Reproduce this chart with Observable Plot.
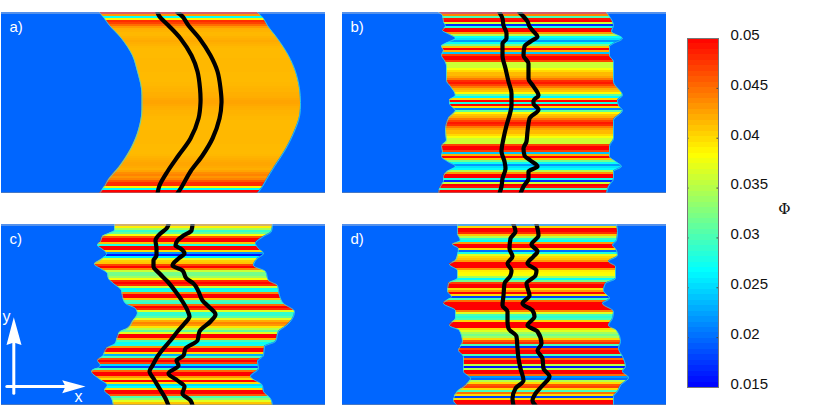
<!DOCTYPE html>
<html>
<head>
<meta charset="utf-8">
<script src="https://cdn.jsdelivr.net/npm/d3@7"></script>
<script src="https://cdn.jsdelivr.net/npm/@observablehq/plot@0.6"></script>
<style>
html,body{margin:0;padding:0;background:#fff;}
#page{position:relative;width:830px;height:420px;overflow:hidden;}
#page>svg,#page>div{position:absolute;}
</style>
</head>
<body>
<div id="page"></div>
<script>
// Φ per 2-unit row, top to bottom
const aPhi=[.05,.043,.027,.039,.048,.047,.045,.043,.042,.0418,.0416,.0416,.0418,.042,.0422,.042,.0418,.0416,.0415,.0415,.0415,.0415,.0415,.0416,.0416,.0416,.0416,.0416,.0416,.0416,.0415,.0415,.0415,.0415,.0415,.0416,.0416,.0417,.0418,.0418,.042,.042,.0421,.0423,.0425,.0425,.0423,.0421,.042,.0418,.0418,.0417,.0416,.0416,.0415,.0415,.0415,.0415,.0415,.0416,.0416,.0416,.0416,.0416,.0416,.0416,.0415,.0415,.0415,.0415,.0415,.0416,.0418,.042,.0422,.0424,.0424,.0422,.042,.0425,.0435,.044,.0432,.044,.046,.048,.048,.039,.027,.05];
const bPhi=[.05,.044,.03,.049,.05,.036,.017,.028,.05,.05,.043,.035,.027,.0255,.022,.027,.032,.041,.05,.042,.024,.047,.05,.05,.047,.036,.036,.036,.038,.04,.0415,.0415,.0425,.0445,.048,.049,.047,.0445,.042,.041,.0385,.031,.0265,.04,.05,.028,.05,.04,.021,.031,.0385,.041,.042,.0445,.047,.049,.048,.0445,.0425,.0415,.0415,.04,.038,.036,.036,.036,.047,.05,.05,.047,.024,.042,.05,.041,.032,.027,.022,.0255,.027,.035,.043,.05,.05,.028,.017,.036,.05,.049,.03,.05];
const cPhi=[.0425,.039,.034,.029,.031,.038,.046,.05,.05,.041,.028,.05,.05,.04,.022,.016,.026,.037,.0405,.041,.047,.05,.044,.036,.032,.032,.034,.038,.048,.05,.048,.036,.027,.028,.044,.05,.05,.041,.03,.029,.045,.05,.048,.037,.029,.029,.031,.037,.042,.044,.043,.0395,.035,.031,.037,.05,.05,.042,.03,.027,.028,.043,.05,.05,.04,.023,.03,.047,.05,.047,.025,.018,.03,.045,.05,.05,.043,.04,.05,.04,.025,.027,.04,.05,.05,.046,.03,.033,.037,.041];
const dPhi=[.022,.04,.05,.05,.048,.041,.035,.029,.027,.043,.05,.05,.04,.02,.028,.037,.04,.041,.043,.05,.05,.05,.043,.039,.0385,.038,.034,.027,.032,.047,.05,.05,.04,.043,.05,.04,.018,.03,.045,.05,.05,.05,.05,.044,.037,.03,.0285,.03,.04,.05,.05,.05,.04,.037,.034,.032,.034,.04,.046,.048,.03,.017,.047,.05,.05,.03,.018,.045,.05,.05,.035,.016,.035,.05,.05,.045,.022,.02,.035,.04,.046,.047,.04,.03,.045,.04,.018,.04,.05,.05];

// Left and right edges of the coloured band
const aLeftY=[0,6,13,26,43,59,76,90,104,121,137,154,167,174,181];
const aLeftX=[98,103,108,120,131,136,140,140.5,140,136,129,118,107,103,98];
const aRightY=[0,6,13,26,43,59,76,90,104,121,137,154,167,174,181];
const aRightX=[256,262,266,276,287,294,298,299,298,292,284,273,265,261,256];
const bLeftY=[0,3,9,14,18,21,26,30,34,38,43,48,53,68,74,83,88,91,94,98,106,118,128,134,139,144,149,154,159,164,169,174,181];
const bLeftX=[96,100,101,103,100,105,113,105,99,101,99,102,104,104,108,113,107,107,109,113,106,103,104,99,100,99,105,113,105,101,101,98,96];
const bRightY=[0,4,13,19,26,31,34,43,49,69,83,88,93,98,108,126,134,144,149,154,159,166,174,181];
const bRightX=[264,267,271,269,280,271,267,267,271,271,280,275,276,280,271,271,267,267,273,279,271,271,266,264];
const cLeftY=[0,6,9,12,17,21,24,29,34,40,44,49,54,59,66,72,79,84,89,97,104,107,112,119,124,132,136,141,147,154,161,166,172,181];
const cLeftX=[113,113,107,101,99,96,100,105,101,93,99,106,107,112,120,121,124,134,136,131,126,119,116,114,105,101,96,99,90,97,106,103,109,112];
const cRightY=[0,7,12,19,24,29,34,41,47,56,61,71,79,87,94,101,107,117,122,131,137,144,152,161,167,174,181];
const cRightX=[271,270,262,254,257,262,256,252,264,267,276,278,282,293,291,285,277,274,263,262,256,257,249,261,262,269,271];
const dLeftY=[0,9,16,20,24,31,36,40,46,54,59,67,72,79,86,94,101,106,117,126,132,141,147,154,161,167,176,181];
const dLeftX=[115,115,118,110,116,115,113,107,115,115,106,105,109,101,113,113,107,117,120,116,121,121,121,128,123,115,111,115];
const dRightY=[0,7,16,21,24,31,37,42,54,59,66,74,79,87,94,101,106,117,124,132,142,147,153,161,167,172,181];
const dRightX=[274,275,274,270,273,275,266,273,273,263,261,267,260,271,270,266,274,278,276,280,283,280,286,278,275,271,271];

// Black interface curves
const aCurve1Y=[0,4,13,26,43,59,76,90,106,126,143,159,173,181];
const aCurve1X=[156,158,167,179,190,196,198.5,199,197,189,177,166,158,156];
const aCurve2Y=aCurve1Y;
const aCurve2X=[176,181,187,198,209,216,219,220,218,211,201,189,181,176];
const bCurve1Y=[0,6,13,21,26,31,43,56,69,81,93,99,113,126,139,149,156,166,174,181];
const bCurve1X=[157,160,161,164,164,160,160,163,166,169,169,168,164,161,159,162,163,160,159,157];
const bCurve2Y=[0,4,9,14,19,24,29,34,43,51,66,74,83,88,91,97,106,119,129,136,143,148,154,159,166,174,181];
const bCurve2X=[177,181,185,187,191,195,188,182,181,186,186,191,196,191,191,196,187,185,184,181,182,188,195,186,186,181,178];
const cCurve1Y=[0,4,9,16,24,31,36,42,49,57,67,77,86,92,99,107,116,124,132,141,147,154,164,174,181];
const cCurve1X=[167,165,159,154,155,155,152,152,158,166,174,181,186,188,183,176,169,162,156,151,148,152,158,164,167];
const cCurve2Y=[0,6,11,16,21,24,29,34,41,46,54,59,67,76,82,90,97,107,116,124,131,136,141,149,156,162,169,176,181];
const cCurve2X=[191,190,182,176,174,179,183,177,171,181,185,192,197,201,207,214,209,198,196,184,182,175,177,167,176,183,181,189,191];
const dCurve1Y=[0,7,14,24,32,39,46,51,59,71,81,87,97,104,112,124,134,144,156,164,174,181];
const dCurve1X=[171,173,168,167,170,165,169,168,162,161,160,165,165,166,174,175,176,178,181,173,170,171];
const dCurve2Y=[0,11,20,27,32,39,46,51,59,71,79,86,92,101,107,119,126,134,144,152,161,169,176,181];
const dCurve2X=[194,196,189,195,191,185,194,193,184,187,180,190,192,185,195,199,195,200,201,207,200,193,190,193];

// Axis arrows in panel c
const arrowYShaftX=[12.3,12.3], arrowYShaftY=[168.7,112];
const arrowYHeadX=[12.3,5,12.3,20], arrowYHeadY=[92.7,120.5,118,120.5];
const arrowXShaftX=[5.3,66], arrowXShaftY=[162,162];
const arrowXHeadX=[84,60.7,64,60.7], arrowXHeadY=[162,155.8,162,168.7];

// Colour bar
const colorTicks=[0.015,0.02,0.025,0.03,0.035,0.04,0.045,0.05];
const colorDomain=[0.015,0.02667,0.03833,0.05];
const colorRange=["#0000ff","#00ffff","#ffff00","#ff0000"];
const phiLabel="Φ";
const panelLabels=["a)","b)","c)","d)"];
const bgColor="#0066ff", edgeColor="#38dbe0";
const textFont="'Liberation Sans',Helvetica,Arial,sans-serif";

const page=document.getElementById("page");
const zip=(xs,ys)=>xs.map((x,i)=>({x,y:ys[i]}));
const colorScale={type:"linear",domain:colorDomain,range:colorRange,interpolate:"rgb"};

function panel(left,top,label,phi,lY,lX,rY,rX,c1Y,c1X,c2Y,c2X,extra=[],curveName="monotone-y"){
  const rows=phi.map((v,i)=>({y1:i*2,y2:i*2+2,v}));
  const L=zip(lX,lY), R=zip(rX,rY);
  const edge={x:"x",y:"y",stroke:edgeColor,strokeWidth:0.8,curve:curveName};
  const curve={x:"x",y:"y",stroke:"#000",strokeWidth:4.2,strokeLinejoin:"round",curve:curveName};
  const svg=Plot.plot({
    width:324,height:181,margin:0,
    x:{domain:[0,324],range:[0,324],axis:null},
    y:{domain:[0,181],range:[0,181],axis:null},
    color:colorScale,
    marks:[
      Plot.rectY(rows,{x1:()=>0,x2:()=>324,y1:"y1",y2:d=>d.y1===178?181:d.y2,fill:"v",shapeRendering:"crispEdges"}),
      Plot.areaX(L,{y:"y",x1:()=>0,x2:"x",fill:bgColor,curve:curveName}),
      Plot.areaX(R,{y:"y",x1:"x",x2:()=>324,fill:bgColor,curve:curveName}),
      Plot.line(L,edge),
      Plot.line(R,edge),
      Plot.line(zip(c1X,c1Y),curve),
      Plot.line(zip(c2X,c2Y),curve),
      Plot.text([label],{frameAnchor:"top-left",dx:8,dy:9,fill:"#fff",fontSize:15,fontFamily:textFont,textAnchor:"start",lineAnchor:"top"}),
      ...extra,
      Plot.ruleY([181],{dy:-0.5,stroke:"#8a8a8a",strokeWidth:1}),
      Plot.ruleY([0],{dy:0.5,stroke:"#a8bcd8",strokeWidth:1})
    ]
  });
  svg.style.left=left+"px"; svg.style.top=top+"px";
  svg.style.background="transparent";
  page.appendChild(svg);
}

const white={stroke:"#fff",strokeWidth:3,x:"x",y:"y"};
const arrows=[
  Plot.line(zip(arrowYShaftX,arrowYShaftY),white),
  Plot.line(zip(arrowYHeadX,arrowYHeadY),{x:"x",y:"y",fill:"#fff",stroke:"none"}),
  Plot.line(zip(arrowXShaftX,arrowXShaftY),white),
  Plot.line(zip(arrowXHeadX,arrowXHeadY),{x:"x",y:"y",fill:"#fff",stroke:"none"}),
  Plot.text(["y"],{x:()=>5,y:()=>92,fill:"#fff",fontSize:16,fontFamily:textFont}),
  Plot.text(["x"],{x:()=>77,y:()=>172,fill:"#fff",fontSize:16,fontFamily:textFont})
];

panel(1,12,panelLabels[0],aPhi,aLeftY,aLeftX,aRightY,aRightX,aCurve1Y,aCurve1X,aCurve2Y,aCurve2X,[],"catmull-rom");
panel(342,12,panelLabels[1],bPhi,bLeftY,bLeftX,bRightY,bRightX,bCurve1Y,bCurve1X,bCurve2Y,bCurve2X);
panel(1,224,panelLabels[2],cPhi,cLeftY,cLeftX,cRightY,cRightX,cCurve1Y,cCurve1X,cCurve2Y,cCurve2X,arrows);
panel(342,224,panelLabels[3],dPhi,dLeftY,dLeftX,dRightY,dRightX,dCurve1Y,dCurve1X,dCurve2Y,dCurve2X);

// colour bar: one band per level of the 64-level colour map
const levels=d3.range(64).map(i=>({y1:0.015+i*(0.035/64),y2:0.015+(i+1)*(0.035/64)}));
const innerTicks=colorTicks.slice(1,-1);
const bar=Plot.plot({
  width:150,height:375,
  marginLeft:7,marginRight:112,marginTop:13,marginBottom:13,
  x:{domain:[0,1],axis:null},
  y:{domain:[0.015,0.05],axis:null},
  color:colorScale,
  marks:[
    Plot.rectY(levels,{x1:()=>0,x2:()=>1,y1:"y1",y2:"y2",fill:d=>(d.y1+d.y2)/2,shapeRendering:"crispEdges"}),
    Plot.ruleY(innerTicks,{x1:()=>0,x2:()=>0.05,stroke:"#444"}),
    Plot.ruleY(innerTicks,{x1:()=>0.95,x2:()=>1,stroke:"#444"}),
    Plot.frame({stroke:"#777"}),
    Plot.axisY(colorTicks,{anchor:"right",tickSize:0,tickPadding:12,tickFormat:d=>String(d),dy:-3.5,fontSize:15,fontFamily:textFont,fill:"#111",label:null}),
    Plot.text([phiLabel],{frameAnchor:"right",dx:72,dy:-4,fontSize:15,fontFamily:"'DejaVu Serif','Liberation Serif',serif",fill:"#111"})
  ]
});
bar.style.left="680px"; bar.style.top="25px"; bar.style.background="transparent";
bar.style.overflow="visible";
page.appendChild(bar);
</script>
</body>
</html>
